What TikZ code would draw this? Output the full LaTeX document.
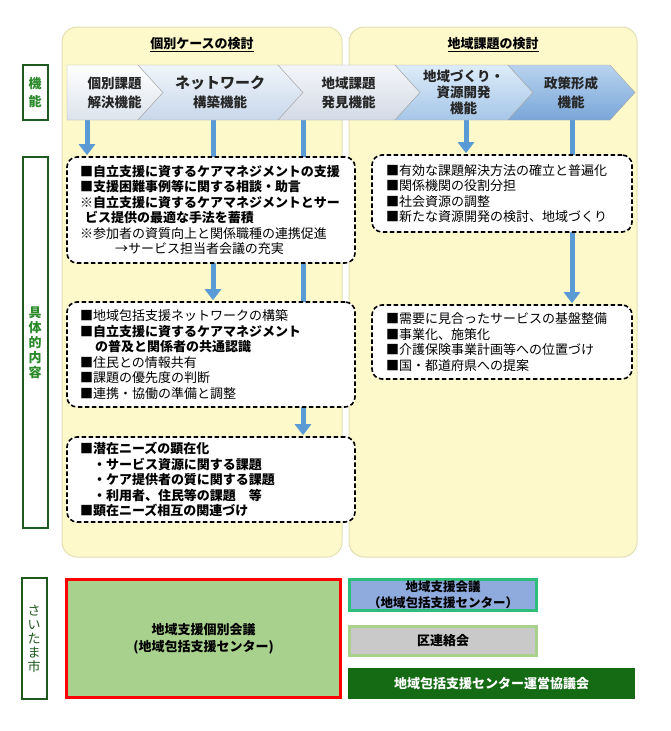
\documentclass[tikz,border=0pt]{standalone}
\usepackage{fontspec}
\setmainfont{Noto Sans CJK JP}
\usetikzlibrary{arrows.meta}

\pgfdeclarelayer{back}
\pgfdeclarelayer{mid}
\pgfsetlayers{back,mid,main}

\definecolor{panelyellow}{HTML}{FDF9CB}
\definecolor{paneledge}{HTML}{E3DFB4}
\definecolor{flowblue}{HTML}{5B9BD5}
\definecolor{labelgreen}{HTML}{2A8A2A}
\definecolor{labeledge}{HTML}{1E5A1E}
\definecolor{leafgreen}{HTML}{A9D18E}
\definecolor{meetblue}{HTML}{8FAADC}
\definecolor{meetedge}{HTML}{2DBE7A}
\definecolor{wardgray}{HTML}{C9C9C9}
\definecolor{councilgreen}{HTML}{146B14}
\definecolor{chevtopA}{HTML}{FFFFFF}
\definecolor{chevbotA}{HTML}{DCE3EC}
\definecolor{chevtopB}{HTML}{F0F5FB}
\definecolor{chevbotB}{HTML}{C8D7EA}
\definecolor{chevtopC}{HTML}{F4F6F9}
\definecolor{chevbotC}{HTML}{D3DAE6}
\definecolor{chevtopD}{HTML}{DDECF9}
\definecolor{chevbotD}{HTML}{A6C6E8}
\definecolor{chevtopE}{HTML}{B8D3EF}
\definecolor{chevbotE}{HTML}{7AA6D8}

\tikzset{
  panel/.style={draw=paneledge, fill=panelyellow, line width=1pt, rounded corners=15pt},
  head/.style={font=\bfseries\fontsize{13}{15}\selectfont},
  chevtext/.style={align=center, inner sep=0pt, minimum height=55pt, text=black!85,
    font=\bfseries\fontsize{13.5}{19}\selectfont},
  sidelabel/.style={draw=labeledge, fill=white, line width=2pt, minimum width=25pt,
    inner sep=0pt, align=center, text=labelgreen, font=\bfseries\fontsize{13}{15}\selectfont},
  memo/.style={draw=black, fill=white, line width=1.6pt, dash pattern=on 4.5pt off 2.5pt,
    rounded corners=10pt, align=left, inner sep=0pt, font=\fontsize{13}{15.5}\selectfont},
  flow/.style={draw=flowblue, line width=5pt, shorten >=1pt,
    -{Triangle[width=16pt,length=11pt]}},
  meeting/.style={line width=3pt, align=center, inner sep=0pt,
    font=\bfseries\fontsize{13}{17}\selectfont}
}

\begin{document}
\begin{tikzpicture}[x=1pt, y=-1pt]
  \useasboundingbox (0,0) rectangle (670,731);

  % yellow panels
  \begin{pgfonlayer}{back}
    \draw[panel] (62,27) rectangle (342,557);
    \draw[panel] (349,27) rectangle (637,557);
  \end{pgfonlayer}
  \node[head] (headcase) at (202,45) {\underline{個別ケースの検討}};
  \node[head] (headarea) at (493,45) {\underline{地域課題の検討}};

  % function chevrons
  \foreach \n/\xa/\xb/\d/\cl/\txt in {
      fnA/67/138/0/A/{個別課題\\解決機能},
      fnB/138/278/25/B/{{\fontsize{15}{19}\selectfont ネットワーク}\\構築機能},
      fnC/278/395/25/C/{地域課題\\発見機能},
      fnD/395/508/25/D/{地域づくり・\\[-3pt]資源開発\\[-3pt]機能},
      fnE/508/610/25/E/{政策形成\\機能}}{
    \draw[draw=gray!70, top color=chevtop\cl, bottom color=chevbot\cl]
      (\xa,65) -- (\xb,65) -- (\xb+25,92.5) -- (\xb,120) -- (\xa,120) -- (\xa+\d,92.5) -- cycle;
    \node[chevtext] (\n) at ({(\xa+\xb)/2+12},92.5) {\txt};
  }

  % side labels
  \node[sidelabel, minimum height=55pt] (lblfn) at (35,92.5) {機\\[3pt]能};
  \node[sidelabel, minimum height=371pt] (lblbody) at (35,342.5) {具\\体\\的\\内\\容};
  \node[sidelabel, minimum height=121pt, text=labeledge, font=\fontsize{13}{14}\selectfont]
    (lblcity) at (34,638.5) {さ\\い\\た\\ま\\市};

  % content boxes
  \node[memo, minimum width=288pt, minimum height=106pt, text width=262pt] (caseA) at (211,210) {
    {\bfseries ■自立支援に資するケアマネジメントの支援}\\
    {\bfseries ■支援困難事例等に関する相談・助言}\\
    {\bfseries ※自立支援に資するケアマネジメントとサー}\\
    {\bfseries \hspace*{5pt}ビス提供の最適な手法を蓄積}\\
    ※参加者の資質向上と関係職種の連携促進\\
    \hspace*{35pt}→サービス担当者会議の充実};
  \node[memo, minimum width=288pt, minimum height=105pt, text width=262pt] (caseB) at (211,354.5) {
    ■地域包括支援ネットワークの構築\\
    {\bfseries ■自立支援に資するケアマネジメント}\\
    {\bfseries \hspace*{15pt}の普及と関係者の共通認識}\\
    ■住民との情報共有\\
    ■課題の優先度の判断\\
    ■連携・協働の準備と調整};
  \node[memo, minimum width=288pt, minimum height=85pt, text width=262pt] (caseC) at (211,479.5) {
    {\bfseries ■潜在ニーズの顕在化}\\
    {\bfseries \hspace*{13pt}・サービス資源に関する課題}\\
    {\bfseries \hspace*{13pt}・ケア提供者の質に関する課題}\\
    {\bfseries \hspace*{13pt}・利用者、住民等の課題　等}\\
    {\bfseries ■顕在ニーズ相互の関連づけ}};
  \node[memo, minimum width=260pt, minimum height=77pt, text width=232pt] (areaD) at (502,193.5) {
    ■有効な課題解決方法の確立と普遍化\\
    ■関係機関の役割分担\\
    ■社会資源の調整\\
    ■新たな資源開発の検討、地域づくり};
  \node[memo, minimum width=260pt, minimum height=74pt, text width=232pt] (areaE) at (502,342) {
    ■需要に見合ったサービスの基盤整備\\
    ■事業化、施策化\\
    ■介護保険事業計画等への位置づけ\\
    ■国・都道府県への提案};

  % blue flow arrows (behind the boxes)
  \begin{pgfonlayer}{mid}
    \draw[flow] ([xshift=-27.5pt]fnA.south) -- ([xshift=-27.5pt]fnA.south |- caseA.north);
    \draw[flow] ([xshift=-7pt]fnB.south) -- ([xshift=-7pt]fnB.south |- caseB.north);
    \draw[flow] ([xshift=-45.5pt]fnC.south) -- ([xshift=-45.5pt]fnC.south |- caseC.north);
    \draw[flow] ([xshift=2.5pt]fnD.south) -- ([xshift=2.5pt]fnD.south |- areaD.north);
    \draw[flow] ([xshift=1pt]fnE.south) -- ([xshift=1pt]fnE.south |- areaE.north);
  \end{pgfonlayer}

  % meetings in the city
  \node[meeting, draw=red, fill=leafgreen, minimum width=274pt, minimum height=118pt]
    (indiv) at (203.5,638.5) {地域支援個別会議\\(地域包括支援センター)};
  \node[meeting, draw=meetedge, fill=meetblue, minimum width=187pt, minimum height=31pt,
    font=\bfseries\fontsize{12.5}{16}\selectfont]
    (areameet) at (443,595) {地域支援会議\\（地域包括支援センター）};
  \node[meeting, draw=leafgreen, fill=wardgray, minimum width=187pt, minimum height=29pt]
    (ward) at (443,641) {区連絡会};
  \node[meeting, fill=councilgreen, text=white, minimum width=287pt, minimum height=31pt]
    (council) at (491.5,683.5) {地域包括支援センター運営協議会};
\end{tikzpicture}
\end{document}
